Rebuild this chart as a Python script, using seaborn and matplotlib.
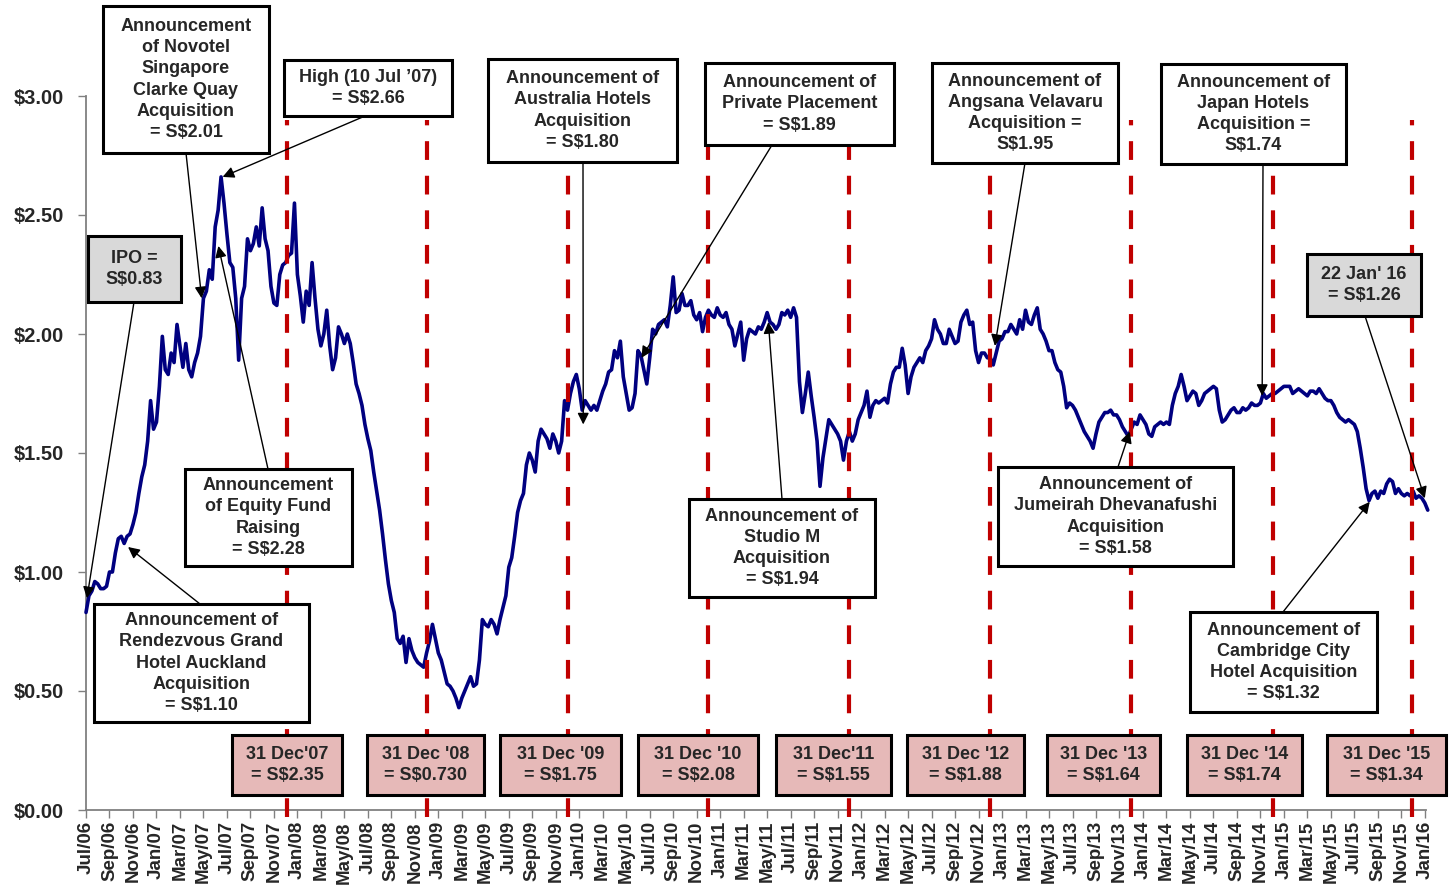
#!/usr/bin/env python
"""
Unit price history since IPO, with acquisition announcements and year-end closes.
"""

import numpy as np
import pandas as pd
import matplotlib
matplotlib.use("Agg")
import matplotlib.pyplot as plt
from matplotlib.patches import Rectangle
import seaborn as sns

# Weekly closing prices (S$), one value every quarter month starting at the IPO
weekly_close = [
    0.83, 0.90, 0.92, 0.96, 0.95, 0.93, 0.93, 0.94, 1.00, 1.00,
    1.08, 1.14, 1.15, 1.12, 1.15, 1.16, 1.20, 1.25, 1.33, 1.40,
    1.45, 1.55, 1.72, 1.60, 1.63, 1.78, 1.99, 1.85, 1.83, 1.92,
    1.88, 2.04, 1.95, 1.86, 1.96, 1.85, 1.82, 1.88, 1.92, 1.99,
    2.15, 2.18, 2.27, 2.23, 2.45, 2.52, 2.66, 2.55, 2.42, 2.30,
    2.28, 2.15, 1.89, 2.15, 2.20, 2.40, 2.35, 2.38, 2.45, 2.37,
    2.53, 2.40, 2.35, 2.20, 2.13, 2.12, 2.25, 2.29, 2.30, 2.33,
    2.34, 2.55, 2.25, 2.16, 2.05, 2.18, 2.12, 2.30, 2.15, 2.02,
    1.95, 2.00, 2.10, 1.95, 1.85, 1.90, 2.03, 2.00, 1.96, 2.00,
    1.96, 1.88, 1.79, 1.75, 1.70, 1.62, 1.56, 1.51, 1.42, 1.34,
    1.26, 1.16, 1.05, 0.95, 0.88, 0.83, 0.72, 0.70, 0.73, 0.62,
    0.72, 0.67, 0.64, 0.62, 0.61, 0.60, 0.66, 0.71, 0.78, 0.72,
    0.66, 0.63, 0.58, 0.53, 0.52, 0.50, 0.47, 0.43, 0.47, 0.50,
    0.53, 0.56, 0.52, 0.53, 0.63, 0.80, 0.78, 0.77, 0.80, 0.78,
    0.74, 0.80, 0.85, 0.90, 1.02, 1.06, 1.15, 1.25, 1.30, 1.33,
    1.45, 1.50, 1.47, 1.42, 1.55, 1.60, 1.58, 1.56, 1.52, 1.58,
    1.55, 1.50, 1.55, 1.72, 1.68, 1.75, 1.80, 1.83, 1.77, 1.68,
    1.72, 1.70, 1.68, 1.70, 1.68, 1.72, 1.76, 1.79, 1.84, 1.85,
    1.93, 1.90, 1.97, 1.82, 1.75, 1.68, 1.69, 1.75, 1.93, 1.91,
    1.85, 1.79, 1.90, 2.02, 2.00, 2.04, 2.05, 2.06, 2.03, 2.12,
    2.24, 2.09, 2.10, 2.17, 2.12, 2.12, 2.14, 2.08, 2.06, 2.09,
    2.01, 2.07, 2.10, 2.08, 2.07, 2.11, 2.08, 2.07, 2.09, 2.04,
    2.02, 1.95, 2.00, 2.05, 1.89, 1.98, 2.02, 2.01, 2.00, 2.03,
    2.02, 2.05, 2.09, 2.05, 2.04, 2.02, 2.04, 2.09, 2.08, 2.10,
    2.07, 2.11, 2.07, 1.80, 1.67, 1.75, 1.84, 1.74, 1.65, 1.55,
    1.36, 1.48, 1.56, 1.64, 1.62, 1.60, 1.58, 1.55, 1.47, 1.55,
    1.59, 1.55, 1.58, 1.64, 1.67, 1.70, 1.76, 1.65, 1.70, 1.72,
    1.71, 1.72, 1.73, 1.71, 1.79, 1.84, 1.86, 1.86, 1.94, 1.87,
    1.75, 1.82, 1.86, 1.88, 1.90, 1.88, 1.93, 1.95, 1.98, 2.06,
    2.02, 2.00, 1.96, 1.96, 2.02, 1.99, 1.96, 1.97, 2.05, 2.08,
    2.10, 2.04, 2.05, 1.93, 1.88, 1.92, 1.92, 1.90, 1.90, 1.87,
    1.92, 1.97, 1.98, 2.01, 2.01, 2.04, 2.02, 2.00, 2.06, 2.02,
    2.10, 2.05, 2.04, 2.08, 2.11, 2.02, 2.00, 1.97, 1.93, 1.93,
    1.88, 1.85, 1.84, 1.78, 1.69, 1.71, 1.70, 1.68, 1.65, 1.62,
    1.59, 1.57, 1.55, 1.52, 1.58, 1.63, 1.65, 1.67, 1.67, 1.68,
    1.66, 1.66, 1.64, 1.61, 1.59, 1.57, 1.60, 1.63, 1.62, 1.66,
    1.64, 1.62, 1.58, 1.57, 1.61, 1.62, 1.63, 1.62, 1.63, 1.62,
    1.70, 1.75, 1.78, 1.83, 1.78, 1.72, 1.74, 1.76, 1.75, 1.70,
    1.72, 1.75, 1.76, 1.77, 1.78, 1.77, 1.68, 1.63, 1.64, 1.66,
    1.68, 1.69, 1.67, 1.67, 1.69, 1.68, 1.69, 1.71, 1.70, 1.70,
    1.71, 1.75, 1.73, 1.74, 1.75, 1.75, 1.76, 1.77, 1.78, 1.78,
    1.78, 1.75, 1.76, 1.77, 1.76, 1.75, 1.74, 1.76, 1.76, 1.75,
    1.77, 1.75, 1.73, 1.72, 1.72, 1.70, 1.67, 1.65, 1.64, 1.63,
    1.64, 1.63, 1.62, 1.59, 1.52, 1.44, 1.35, 1.30, 1.33, 1.34,
    1.31, 1.34, 1.33, 1.37, 1.39, 1.38, 1.33, 1.35, 1.33, 1.32,
    1.33, 1.32, 1.34, 1.31, 1.32, 1.31, 1.29, 1.26,
]

# Year-end markers (months after Jul/06) and their closing prices
year_end_months = [17.1, 29.0, 41.0, 53.0, 65.0, 77.0, 89.0, 101.05, 112.9]
year_end_labels = [
    "31 Dec'07\n= S$2.35", "31 Dec '08\n= S$0.730", "31 Dec '09\n= S$1.75",
    "31 Dec '10\n= S$2.08", "31 Dec'11\n= S$1.55", "31 Dec '12\n= S$1.88",
    "31 Dec '13\n= S$1.64", "31 Dec '14\n= S$1.74", "31 Dec '15\n= S$1.34",
]

# Events pointed at on the line: (months after Jul/06, price)
event_labels = [
    "IPO =\nS$0.83",
    "Announcement of\nRendezvous Grand\nHotel Auckland\nAcquisition\n= S$1.10",
    "Announcement\nof Novotel\nSingapore\nClarke Quay\nAcquisition\n= S$2.01",
    "Announcement\nof Equity Fund\nRaising\n= S$2.28",
    "High (10 Jul \u201907)\n= S$2.66",
    "Announcement of\nAustralia Hotels\nAcquisition\n= S$1.80",
    "Announcement of\nPrivate Placement\n= S$1.89",
    "Announcement of\nStudio M\nAcquisition\n= S$1.94",
    "Announcement of\nAngsana Velavaru\nAcquisition =\nS$1.95",
    "Announcement of\nJumeirah Dhevanafushi\nAcquisition\n= S$1.58",
    "Announcement of\nJapan Hotels\nAcquisition =\nS$1.74",
    "Announcement of\nCambridge City\nHotel Acquisition\n= S$1.32",
    "22 Jan' 16\n= S$1.26",
]
event_months = [0.08, 3.58, 9.85, 11.27, 11.63, 42.34, 47.3, 58.1, 77.39, 88.88, 100.15, 109.31, 114.0]
event_prices = [0.89, 1.105, 2.15, 2.37, 2.66, 1.62, 1.90, 2.05, 1.95, 1.59, 1.74, 1.295, 1.31]

W, H = 1452, 893

# Box layout in image pixels: (left, top, right, bottom), arrow start (x, y), fill
event_boxes = [
    ((88, 236, 181, 302), (134, 302), "#D9D9D9"),
    ((94, 604, 309, 722), (200, 604), "white"),
    ((103, 6, 269, 153), (186, 153), "white"),
    ((185, 469, 352, 566), (268, 469), "white"),
    ((284, 60, 452, 116), (365, 116), "white"),
    ((488, 59, 677, 162), (583, 162), "white"),
    ((705, 63, 894, 145), (772, 145), "white"),
    ((689, 499, 875, 597), (782, 499), "white"),
    ((932, 63, 1118, 163), (1025, 163), "white"),
    ((998, 467, 1233, 566), (1118, 467), "white"),
    ((1161, 64, 1346, 164), (1263, 164), "white"),
    ((1190, 612, 1377, 712), (1283, 612), "white"),
    ((1307, 254, 1421, 316), (1365, 316), "#D9D9D9"),
]
year_end_boxes = [(232, 342), (367, 484), (500, 621), (638, 758), (776, 891),
                  (907, 1024), (1047, 1160), (1187, 1302), (1327, 1446)]


def fig_xy(x, y):
    """Image pixel -> figure fraction"""
    return x / W, 1 - y / H


def draw_box(fig, box, text, fill):
    x0, y0, x1, y1 = box
    fx0, fy1 = fig_xy(x0, y1)
    fx1, fy0 = fig_xy(x1, y0)
    fig.add_artist(Rectangle((fx0, fy1), fx1 - fx0, fy0 - fy1, transform=fig.transFigure,
                             facecolor=fill, edgecolor="black", linewidth=2.2, zorder=5))
    cx, cy = fig_xy((x0 + x1) / 2, (y0 + y1) / 2)
    fig.text(cx, cy, text, ha="center", va="center", multialignment="center",
             fontsize=13, fontweight="bold", linespacing=1.32, zorder=6)


def main():
    sns.set_theme(style="white")
    plt.rcParams["font.family"] = ["Liberation Sans", "DejaVu Sans"]

    fig = plt.figure(figsize=(W / 100, H / 100), dpi=100)
    ax = fig.add_axes([86 / W, 83 / H, (1426 - 86) / W, 714 / H])

    months = np.arange(len(weekly_close)) * 0.25
    df = pd.DataFrame({"month": months, "price": weekly_close})

    sns.lineplot(data=df, x="month", y="price", ax=ax, color="#000080",
                 linewidth=2.6, clip_on=False, zorder=3)

    # year-end dashed markers
    ax.vlines(year_end_months, -0.03, 2.9, colors="#C00000", linewidth=3,
              linestyles=(0, (4.5, 3.8)), clip_on=False, zorder=4)

    # axes
    ax.set_xlim(0, 114.1)
    ax.set_ylim(0, 3.0)
    ax.set_xlabel("")
    ax.set_ylabel("")
    tick_labels = pd.date_range("2006-07-01", "2016-01-01", freq="2MS").strftime("%b/%y")
    ax.set_xticks(np.arange(0, 115, 2))
    ax.set_xticklabels(tick_labels, rotation=90, fontsize=13.5, fontweight="bold")
    yticks = np.arange(0, 3.01, 0.5)
    ax.set_yticks(yticks)
    ax.set_yticklabels([f"${v:.2f}" for v in yticks], fontsize=14.5, fontweight="bold")
    ax.tick_params(axis="both", direction="out", length=6, width=1, color="#808080",
                   bottom=True, left=True)
    ax.tick_params(axis="x", pad=2)
    ax.tick_params(axis="y", pad=10)
    ax.grid(False)
    for side in ["top", "right"]:
        ax.spines[side].set_visible(False)
    for side in ["left", "bottom"]:
        ax.spines[side].set_color("#808080")
        ax.spines[side].set_linewidth(1.3)

    # event annotations
    for label, m, p, (box, start, fill) in zip(event_labels, event_months, event_prices, event_boxes):
        ax.annotate("", xy=(m, p), xycoords="data",
                    xytext=fig_xy(*start), textcoords="figure fraction",
                    arrowprops=dict(arrowstyle="-|>", color="black", lw=1,
                                    shrinkA=0, shrinkB=0, mutation_scale=17),
                    annotation_clip=False, zorder=5)
        draw_box(fig, box, label, fill)

    for label, (x0, x1) in zip(year_end_labels, year_end_boxes):
        draw_box(fig, (x0, 735, x1, 795), label, "#E6B9B8")

    fig.savefig("out.png", dpi=100)
    plt.close(fig)


if __name__ == "__main__":
    main()
